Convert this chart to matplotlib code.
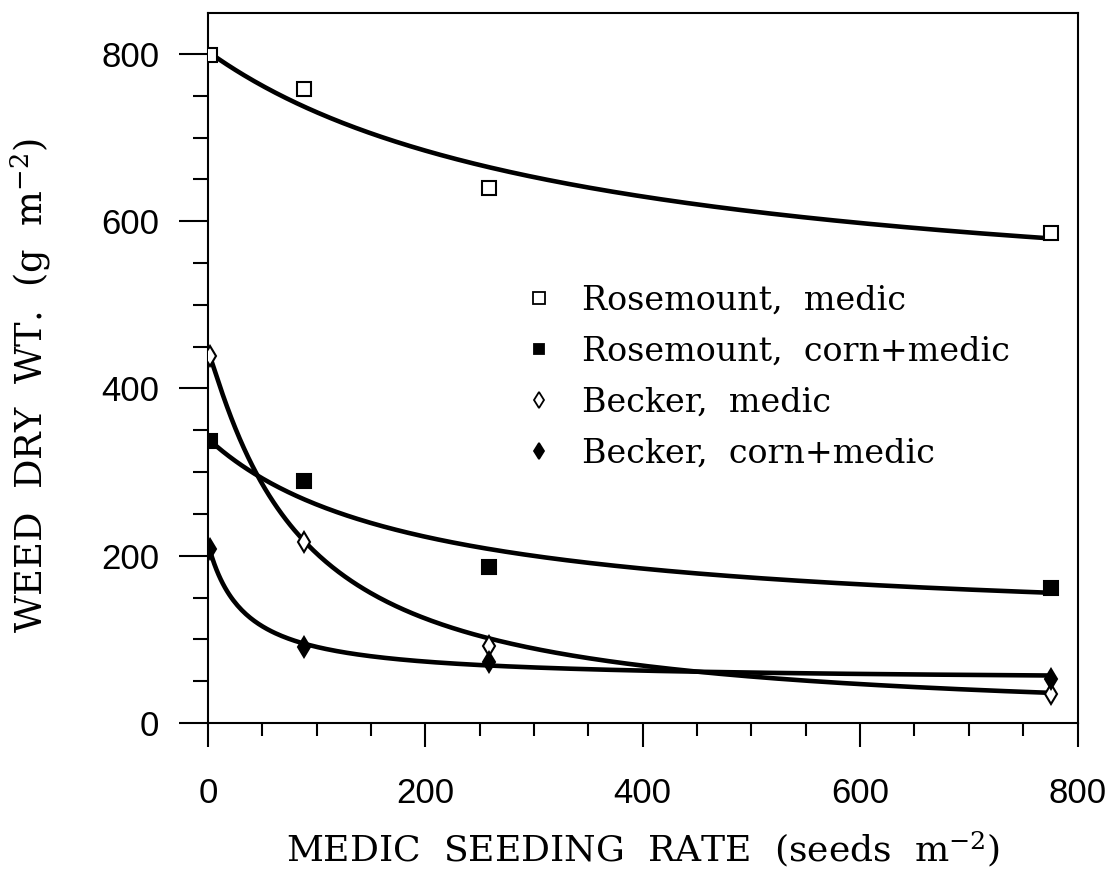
import numpy as np
import matplotlib
matplotlib.use("Agg")
import matplotlib.pyplot as plt
from matplotlib.lines import Line2D
from matplotlib.ticker import MultipleLocator

plt.rcParams['mathtext.fontset'] = 'dejavuserif'

# medic seeding rates (seeds m-2)
rate = [2, 88, 259, 776]

# weed dry weight (g m-2) for each site / system
ros_medic = [799, 758, 640, 586]
ros_corn = [337, 289, 187, 161]
beck_medic = [439, 216, 92, 35]
beck_corn = [208, 91, 73, 53]

labels = ['Rosemount,  medic', 'Rosemount,  corn+medic',
          'Becker,  medic', 'Becker,  corn+medic']

# fitted log-logistic curves: y = lower + (upper - lower) / (1 + (x / e50) ** slope)
fit_lower = [480, 110, 0, 50]
fit_upper = [803, 340, 445, 215]
fit_e50 = [345, 192, 85, 33]
fit_slope = [1.0, 1.0, 1.1, 1.0]

tick_font = ['Liberation Sans', 'DejaVu Sans']
serif = 'DejaVu Serif'

fig = plt.figure(figsize=(11.12, 8.71), dpi=100)
ax = fig.add_axes([0.187, 0.170, 0.782, 0.815])

series = [ros_medic, ros_corn, beck_medic, beck_corn]
markers = ['s', 's', 'd', 'd']
faces = ['white', 'black', 'white', 'black']
sizes = [10, 9.5, 10, 10]

xs = np.linspace(rate[0], rate[-1], 400)
for i, ys in enumerate(series):
    curve = fit_lower[i] + (fit_upper[i] - fit_lower[i]) / (1 + (xs / fit_e50[i]) ** fit_slope[i])
    ax.plot(xs, curve, color='black', lw=3.3, solid_capstyle='round', zorder=2)
    ax.plot(rate, ys, linestyle='none', marker=markers[i], ms=sizes[i],
            mfc=faces[i], mec='black', mew=1.5, zorder=3)

ax.set_xlim(0, 800)
ax.set_ylim(0, 849)
ax.xaxis.set_major_locator(MultipleLocator(200))
ax.xaxis.set_minor_locator(MultipleLocator(50))
ax.yaxis.set_major_locator(MultipleLocator(200))
ax.yaxis.set_minor_locator(MultipleLocator(50))

for s in ax.spines.values():
    s.set_linewidth(1.5)

ax.tick_params(axis='x', which='major', direction='out', length=17, width=1.5, pad=22)
ax.tick_params(axis='x', which='minor', direction='out', length=9, width=1.5)
ax.tick_params(axis='y', which='major', direction='out', length=21, width=1.5, pad=14)
ax.tick_params(axis='y', which='minor', direction='out', length=11, width=1.5)

for lab in ax.get_xticklabels() + ax.get_yticklabels():
    lab.set_family(tick_font)
    lab.set_fontsize(25)

ax.set_xlabel('MEDIC  SEEDING  RATE  (seeds  m$^{-2}$)', family=serif,
              fontsize=26, labelpad=14)
ax.set_ylabel('WEED  DRY  WT.  (g  m$^{-2}$)', family=serif, fontsize=26.5)
ax.yaxis.set_label_coords(-0.178, 0.476)

handles = [Line2D([], [], linestyle='none', marker=markers[i], ms=sizes[i] * 0.8,
                  mfc=faces[i], mec='black', mew=1.3) for i in range(4)]
ax.legend(handles, labels, loc='upper left', bbox_to_anchor=(0.327, 0.659),
          frameon=False, prop={'family': serif, 'size': 24},
          handlelength=1.0, handletextpad=0.8, labelspacing=0.565)

fig.savefig('out.png', dpi=100)
